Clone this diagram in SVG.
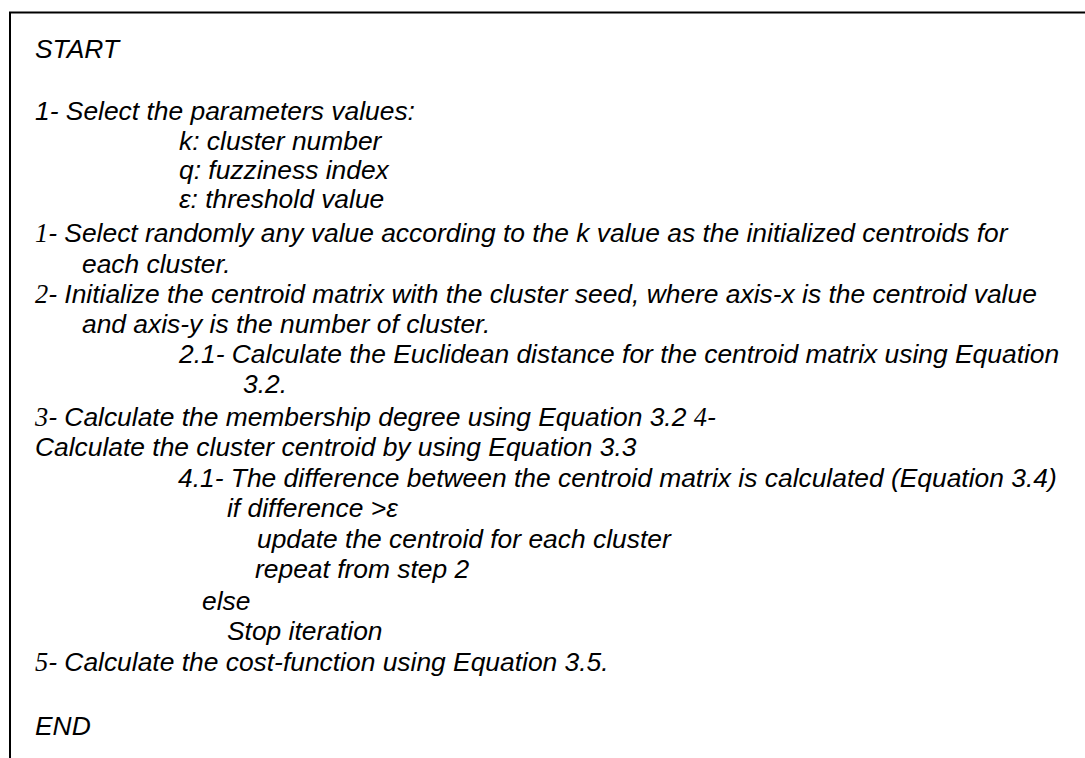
<svg xmlns="http://www.w3.org/2000/svg" width="1085" height="758" viewBox="0 0 1085 758">
  <style>
    .t { font-family: "Liberation Sans", Arial, sans-serif; font-style: italic; font-size: 26.4px; fill: #000; }
    .n { font-family: "Liberation Serif", "Times New Roman", serif; font-style: italic; }
    .frame { fill: none; stroke: #000; stroke-width: 2; }
  </style>
  <rect width="1085" height="758" fill="#fff"/>
  <!-- open frame: top and left edges only -->
  <g id="frame">
    <path class="frame" d="M10,770 V12.5 H1090"/>
  </g>
  <g id="pseudocode">
    <text class="t" x="35" y="58">START</text>
    <text class="t" x="35" y="120">1- Select the parameters values:</text>
    <text class="t" x="179" y="150">k: cluster number</text>
    <text class="t" x="179" y="179">q: fuzziness index</text>
    <text class="t" x="179" y="208">ε: threshold value</text>
    <text class="t" x="35" y="242"><tspan class="n">1</tspan>- Select randomly any value according to the k value as the initialized centroids for</text>
    <text class="t" x="82" y="273">each cluster.</text>
    <text class="t" x="35" y="303"><tspan class="n">2</tspan>- Initialize the centroid matrix with the cluster seed, where axis-x is the centroid value</text>
    <text class="t" x="82" y="333">and axis-y is the number of cluster.</text>
    <text class="t" x="179" y="363">2.1- Calculate the Euclidean distance for the centroid matrix using Equation</text>
    <text class="t" x="243" y="393">3.2.</text>
    <text class="t" x="35" y="426"><tspan class="n">3</tspan>- Calculate the membership degree using Equation 3.2 <tspan class="n">4</tspan>-</text>
    <text class="t" x="35" y="456">Calculate the cluster centroid by using Equation 3.3</text>
    <text class="t" x="178" y="487">4.1- The difference between the centroid matrix is calculated (Equation 3.4)</text>
    <text class="t" x="227" y="517">if difference &gt;ε</text>
    <text class="t" x="257" y="548">update the centroid for each cluster</text>
    <text class="t" x="255" y="578">repeat from step 2</text>
    <text class="t" x="202" y="610">else</text>
    <text class="t" x="227" y="640">Stop iteration</text>
    <text class="t" x="35" y="671"><tspan class="n">5</tspan>- Calculate the cost-function using Equation 3.5.</text>
    <text class="t" x="35" y="735">END</text>
  </g>
</svg>
